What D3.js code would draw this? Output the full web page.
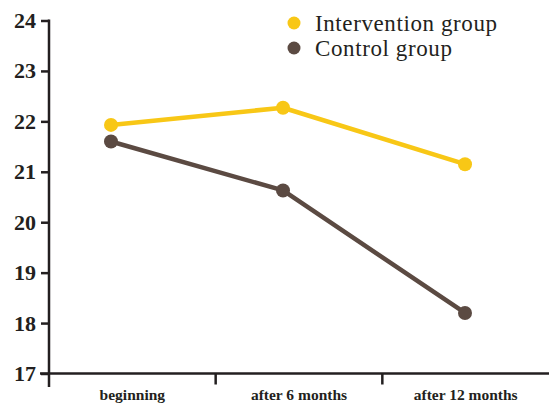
<!DOCTYPE html>
<html>
<head>
<meta charset="utf-8">
<script src="https://cdn.jsdelivr.net/npm/d3@7"></script>
<style>
  body { margin: 0; background: #fff; }
  svg { display: block; }
</style>
</head>
<body>
<svg id="chart"></svg>
<script>
const categories = ['beginning', 'after 6 months', 'after 12 months'];
const interventionValues = [21.93, 22.27, 21.15];
const controlValues = [21.6, 20.63, 18.2];
const yTicks = [17, 18, 19, 20, 21, 22, 23, 24];
const seriesNames = ['Intervention group', 'Control group'];

const width = 549;
const height = 405;
const serif = '"Liberation Serif", "DejaVu Serif", serif';
const ink = '#231f20';
const color = d3.scaleOrdinal(seriesNames, ['#f8c716', '#5b4a42']);

const svg = d3.select('#chart')
  .attr('width', width)
  .attr('height', height);

const y = d3.scaleLinear().domain([17, 24]).range([373.5, 20.5]);
// band scale for the category axis, points sit a bit left of band centres
const xBand = d3.scaleBand().domain(categories).range([49, 549]);
const xPoint = d3.scaleLinear().domain([0, 1, 2]).range([111, 283, 465]);

// y axis
const yAxis = svg.append('g')
  .attr('transform', 'translate(49,0)')
  .call(d3.axisLeft(y).tickValues(yTicks).tickFormat(d3.format('d'))
    .tickSize(8).tickPadding(5).tickSizeOuter(0));
yAxis.select('.domain').remove();
yAxis.append('line')
  .attr('x1', 0).attr('x2', 0)
  .attr('y1', y(24) - 1).attr('y2', 387)
  .attr('stroke', ink).attr('stroke-width', 2.5);
yAxis.selectAll('.tick line').attr('stroke', ink).attr('stroke-width', 2.5);
yAxis.selectAll('.tick text')
  .attr('fill', ink)
  .attr('font-family', serif)
  .attr('font-weight', 'bold')
  .attr('font-size', 22);

// x axis
const xAxis = svg.append('g')
  .attr('transform', `translate(0,${y(17)})`)
  .call(d3.axisBottom(xBand).tickSize(0).tickPadding(15).tickSizeOuter(0));
xAxis.select('.domain').remove();
xAxis.append('line')
  .attr('x1', 40).attr('x2', 549)
  .attr('stroke', ink).attr('stroke-width', 2.5);
xAxis.selectAll('.sep')
  .data(categories.slice(1))
  .enter()
  .append('line')
  .attr('class', 'sep')
  .attr('x1', d => xBand(d)).attr('x2', d => xBand(d))
  .attr('y1', 0).attr('y2', 11)
  .attr('stroke', ink).attr('stroke-width', 2.5);
xAxis.selectAll('.tick text')
  .attr('fill', ink)
  .attr('font-family', serif)
  .attr('font-weight', 'bold')
  .attr('font-size', 15.5);

// series
const series = [
  { name: seriesNames[0], values: interventionValues },
  { name: seriesNames[1], values: controlValues }
];

const line = d3.line()
  .x((d, i) => xPoint(i))
  .y(d => y(d));

const g = svg.selectAll('.series')
  .data(series)
  .enter()
  .append('g')
  .attr('class', 'series');

g.append('path')
  .attr('d', d => line(d.values))
  .attr('fill', 'none')
  .attr('stroke', d => color(d.name))
  .attr('stroke-width', 4.5)
  .attr('stroke-linejoin', 'round');

g.selectAll('circle')
  .data(d => d.values.map(v => ({ v, name: d.name })))
  .enter()
  .append('circle')
  .attr('cx', (d, i) => xPoint(i))
  .attr('cy', d => y(d.v))
  .attr('r', 7)
  .attr('fill', d => color(d.name));

// legend
const legend = svg.append('g')
  .attr('transform', 'translate(294,23)')
  .selectAll('g')
  .data(seriesNames)
  .enter()
  .append('g')
  .attr('transform', (d, i) => `translate(0,${i * 25})`);

legend.append('circle')
  .attr('r', 6.5)
  .attr('fill', d => color(d));

legend.append('text')
  .attr('x', 21)
  .attr('dy', '0.33em')
  .attr('fill', ink)
  .attr('font-family', serif)
  .attr('font-size', 23)
  .attr('letter-spacing', 0.6)
  .text(d => d);
</script>
</body>
</html>
